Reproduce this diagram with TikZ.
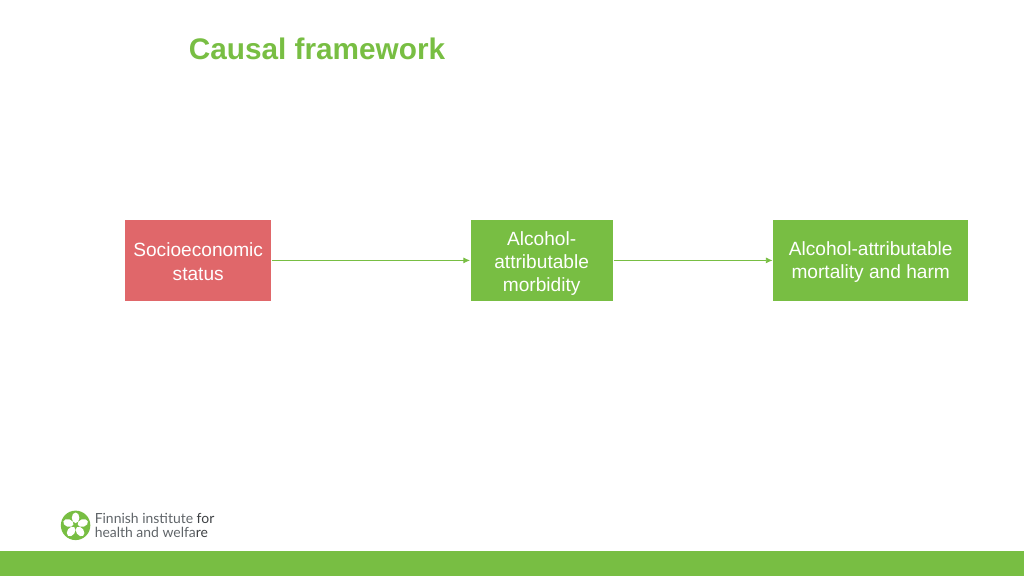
\documentclass[tikz,border=0pt]{standalone}
\usepackage{fontspec}
\usepackage{xcolor}
\setmainfont{Liberation Sans}
\newfontfamily\logofont{Lato}
\usetikzlibrary{arrows.meta,positioning,calc}
\definecolor{thlgreen}{HTML}{78BE43}
\definecolor{thlred}{HTML}{E0676A}
\definecolor{logogray}{HTML}{5F6468}
\definecolor{logodark}{HTML}{3C3F42}

\begin{document}
\begin{tikzpicture}[
    node distance=1cm,
    box/.style={rectangle, fill=thlgreen, text=white, inner sep=0pt, minimum height=2.15cm, align=center, font=\fontsize{14.4}{17.4}\selectfont},
    arrow/.style={-{Latex[length=5pt,width=4.5pt]}, thlgreen, line width=0.6pt, shorten <=0.5pt, shorten >=0.3pt},
    logoline/.style={anchor=base west, inner sep=0pt, text=logogray, font=\logofont\fontsize{10.5}{12}\selectfont}
]
\useasboundingbox (0,0) rectangle (27.093,15.24);

% Title
\node[anchor=base west, inner sep=0pt, text=thlgreen, font=\fontsize{22.4}{26}\selectfont\bfseries] (title) at (4.99,13.67) {Causal framework};

% Boxes
\node[box, fill=thlred, anchor=west, minimum width=3.86cm] (status) at (3.307,8.35) {\rule{0pt}{12.4pt}Socioeconomic\\status};
\node[box, right=5.265cm of status, minimum width=3.757cm] (morbidity) {\rule{0pt}{15pt}Alcohol-\\attributable\\morbidity};
\node[box, right=4.233cm of morbidity, minimum width=5.16cm] (mortality) {\rule{0pt}{12.4pt}Alcohol-attributable\\mortality and harm};

% Arrows
\draw[arrow] (status) -- (morbidity);
\draw[arrow] (morbidity) -- (mortality);

% Footer
\node[anchor=south west, inner sep=0pt, fill=thlgreen, minimum width=27.093cm, minimum height=0.66cm] (footer) at (0,0) {};

% Logo
\node[circle, fill=thlgreen, inner sep=0pt, minimum size=0.78cm] (logo) at (2.0,1.34) {};
\foreach \a in {90,162,234,306,18}
  \fill[white, rotate around={\a:(logo.center)}] ($(logo.center)+(0.2,0)$) ellipse (0.14 and 0.1);
\fill[thlgreen] (logo.center) circle (0.04);
\node[logoline] (logotext) at (2.5,1.4) {Finnish institute \textcolor{logodark}{for}};
\node[logoline] (logotexttwo) at (2.5,1.02) {health and welfa\textcolor{logodark}{re}};
\end{tikzpicture}
\end{document}
